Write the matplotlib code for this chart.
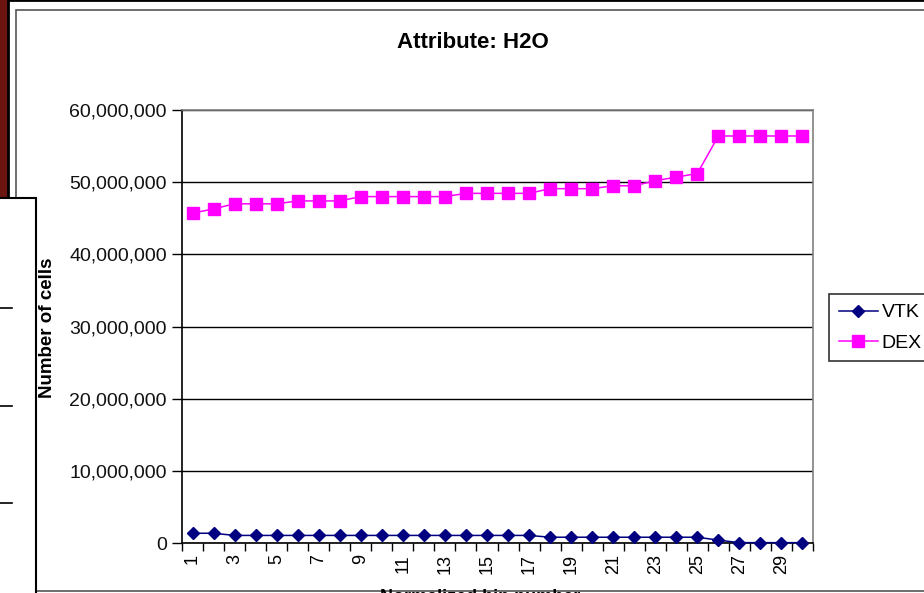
import matplotlib
matplotlib.use("Agg")
import matplotlib.pyplot as plt
from matplotlib.patches import Rectangle
from matplotlib.lines import Line2D
from matplotlib.ticker import FuncFormatter, FixedLocator, NullFormatter

plt.rcParams['font.family'] = ['Liberation Sans', 'DejaVu Sans']

# ---- data -------------------------------------------------------------
bins = list(range(1, 31))
vtk_cells = [1.35e6, 1.35e6] + [1.05e6] * 15 + [0.8e6] * 8 + [0.4e6] + [0.05e6] * 4
dex_cells = [45.7e6, 46.3e6, 47.0e6, 47.0e6, 47.0e6, 47.4e6, 47.4e6, 47.4e6,
             48.0e6, 48.0e6, 48.0e6, 48.0e6, 48.0e6, 48.45e6, 48.45e6, 48.45e6,
             48.45e6, 49.1e6, 49.1e6, 49.1e6, 49.5e6, 49.5e6, 50.2e6, 50.7e6,
             51.2e6, 56.4e6, 56.4e6, 56.4e6, 56.4e6, 56.4e6]
series_names = ["VTK", "DEX"]
y_ticks = [0, 10e6, 20e6, 30e6, 40e6, 50e6, 60e6]
x_label_ticks = list(range(1, 30, 2))
title = "Attribute: H2O"
y_title = "Number of cells"
x_title = "Normalized bin number"

W, H = 924, 593


def fx(x):
    return x / W


def fy(y):
    return 1 - y / H


fig = plt.figure(figsize=(W / 100, H / 100), dpi=100)
fig.patch.set_facecolor('#6b1410')

# window frames behind the chart
fig.add_artist(Rectangle((fx(8), fy(700)), fx(1000), 700 / H,
                         transform=fig.transFigure, facecolor='white',
                         edgecolor='black', lw=2, zorder=0.1))
fig.add_artist(Rectangle((fx(16), fy(591)), fx(1000), (591 - 10) / H,
                         transform=fig.transFigure, facecolor='white',
                         edgecolor='#555555', lw=1.2, zorder=0.2))

# plot area
ax = fig.add_axes([fx(182), fy(543), fx(813) - fx(182), (543 - 110) / H])
ax.set_zorder(2)

ax.plot(bins, vtk_cells, color='#000080', marker='D', markersize=6.5,
        lw=1.1, label=series_names[0], clip_on=False, zorder=3)
ax.plot(bins, dex_cells, color='#ff00ff', marker='s', markersize=8,
        lw=1.1, label=series_names[1], clip_on=False, zorder=3)

ax.set_xlim(0.5, 30.5)
ax.set_ylim(0, 60e6)
ax.set_yticks(y_ticks)
ax.yaxis.set_major_formatter(FuncFormatter(lambda v, p: f"{int(v):,}"))
ax.grid(axis='y', color='black', lw=1)
ax.set_axisbelow(True)

ax.xaxis.set_major_locator(FixedLocator([b + 0.5 for b in [0] + bins]))
ax.xaxis.set_major_formatter(NullFormatter())
ax.xaxis.set_minor_locator(FixedLocator(x_label_ticks))
ax.set_xticklabels([str(v) for v in x_label_ticks], minor=True)
ax.tick_params(axis='x', which='major', length=6, width=1, color='black')
ax.tick_params(axis='x', which='minor', length=0, pad=8, labelsize=13,
               labelrotation=90)
ax.tick_params(axis='y', length=7, width=1, labelsize=14, pad=4,
               labelcolor='#111111')

for s in ['left', 'bottom']:
    ax.spines[s].set_color('black')
    ax.spines[s].set_linewidth(1.2)
for s in ['top', 'right']:
    ax.spines[s].set_color('#808080')
    ax.spines[s].set_linewidth(1.2)

fig.text(fx(473), fy(42), title, ha='center', va='center', fontsize=16,
         fontweight='bold')
fig.text(fx(47), fy(328), y_title, ha='center', va='center', rotation=90,
         fontsize=13.5, fontweight='bold')
# axis title sits mostly below the visible window edge
fig.text(fx(480), fy(589), x_title, ha='center', va='top', fontsize=13,
         fontweight='bold')

leg = fig.legend(loc='upper left', bbox_to_anchor=(fx(829), fy(294)),
                 fontsize=14, frameon=True, fancybox=False, handlelength=2.0,
                 handletextpad=0.2, borderpad=0.5, labelspacing=0.65,
                 borderaxespad=0)
leg.get_frame().set_edgecolor('black')
leg.get_frame().set_linewidth(1.2)
leg.set_zorder(4)

# overlapping window at lower left
fig.add_artist(Rectangle((fx(-5), fy(620)), fx(41), (620 - 198) / H,
                         transform=fig.transFigure, facecolor='white',
                         edgecolor='black', lw=1.5, zorder=10))
for ty in [308, 406, 503]:
    fig.add_artist(Line2D([fx(0), fx(12)], [fy(ty), fy(ty)],
                          transform=fig.transFigure, color='black', lw=1.2,
                          zorder=11))

fig.savefig('out.png', dpi=100)
